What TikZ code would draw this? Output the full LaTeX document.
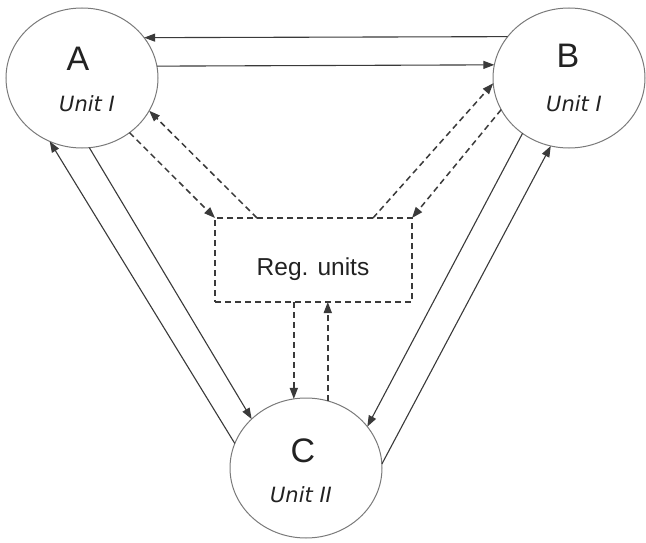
\documentclass[tikz,border=0pt]{standalone}
\usepackage{fontspec}
\setmainfont{Liberation Sans}
\newfontfamily\unitfont{DejaVu Sans}
\usetikzlibrary{shapes.geometric,arrows.meta}
\definecolor{rimgray}{HTML}{7A7A7A}
\definecolor{linegray}{HTML}{3A3A3A}
\definecolor{txtgray}{HTML}{222222}
\begin{document}
\begin{tikzpicture}[x=1pt,y=-1pt,
  unitcirc/.style={ellipse,draw=rimgray,line width=1pt,minimum width=152pt,minimum height=140pt,inner sep=0pt,outer sep=0pt},
  letter/.style={anchor=base,text=txtgray,font=\fontsize{34}{34}\selectfont,inner sep=0pt},
  unitlab/.style={anchor=base,text=txtgray,font=\unitfont\itshape\fontsize{21}{21}\selectfont,inner sep=0pt},
  regbox/.style={draw=linegray,dash pattern=on 6pt off 4pt,line width=1.3pt,minimum width=197pt,minimum height=84pt,inner sep=0pt,outer sep=0pt},
  solidarr/.style={draw=linegray,line width=1.1pt,-{Triangle[length=11pt,width=8pt]}},
  dasharr/.style={draw=linegray,line width=1.5pt,dash pattern=on 6pt off 4pt,-{Triangle[length=11pt,width=8pt]}}
]
\useasboundingbox (0,0) rectangle (646,543);
\fill[white] (0,0) rectangle (646,543);

\node[unitcirc] (A) at (82,78) {};
\node[unitcirc] (B) at (569,78) {};
\node[unitcirc] (C) at (306,468) {};
\node[regbox] (R) at (313.5,260) {};

\node[letter] (Al) at (78,71) {A};
\node[unitlab] (Au) at (87,112) {Unit I};
\node[letter] (Bl) at (568,68) {B};
\node[unitlab] (Bu) at (574,112) {Unit I};
\node[letter] (Cl) at (303,462) {C};
\node[unitlab] (Cu) at (301,502) {Unit II};
\node[anchor=base,text=txtgray,font=\fontsize{24.5}{24.5}\selectfont,inner sep=0pt] (Rl) at (313,275) {Reg. units};

% top pair
\draw[solidarr] (B.146.4) -- (A.33.6);
\draw[solidarr] (A.9.9) -- (B.170.1);

% A - C pair
\draw[solidarr] (C.161.6) -- (A.243);
\draw[solidarr] (A.276.3) -- (C.138.6);

% B - C pair
\draw[solidarr] (B.230.3) -- (C.34.3);
\draw[solidarr] (C.3.7) -- (B.255.2);

% dashed regulatory links
\draw[dasharr] (A.311.3) -- (R.north west);
\draw[dasharr] ([xshift=42pt]R.north west) -- (A.334.8);
\draw[dasharr] ([xshift=-39pt]R.north east) -- (B.184);
\draw[dasharr] (B.205) -- (R.north east);
\draw[dasharr] (C.100.7 |- R.south) -- (C.100.7);
\draw[dasharr] (C.72) -- (C.72 |- R.south);
\end{tikzpicture}
\end{document}
